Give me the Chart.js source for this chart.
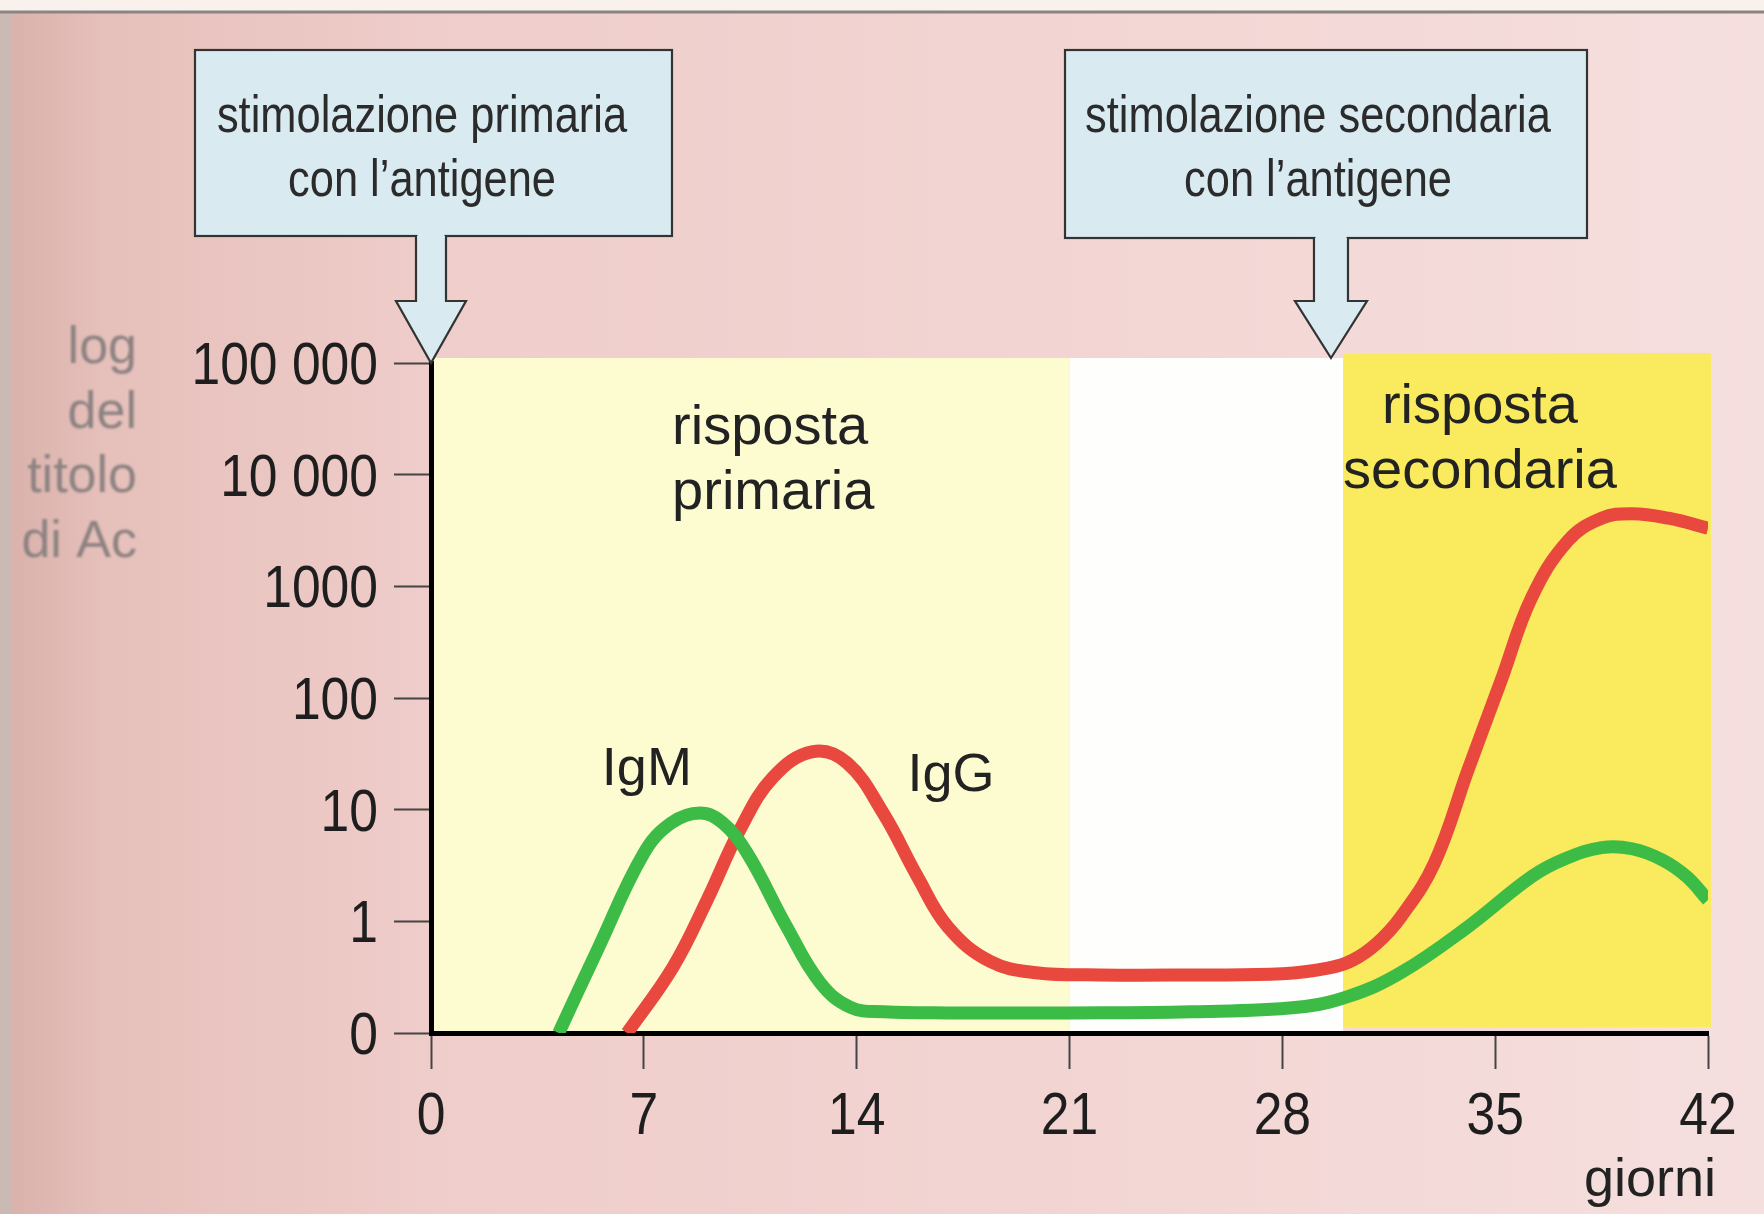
<!DOCTYPE html>
<html>
<head>
<meta charset="utf-8">
<script src="https://cdn.jsdelivr.net/npm/chart.js@4.4.1/dist/chart.umd.min.js"></script>
<style>
html,body{margin:0;padding:0;overflow:hidden;background:#f1d2d0;}
canvas{display:block;}
</style>
</head>
<body>
<canvas id="c" width="1764" height="1214"></canvas>
<script>
// ---- data (days, log-level of antibody titre: 0 = "0", 1 = "1", 2 = "10", ... 6 = "100 000") ----
const igmDays  = [4.2, 5.5, 7.0, 7.9, 8.85, 9.6, 10.4, 11.7, 12.8, 13.8, 14.9, 17, 21, 25, 28.5, 30.2, 31.9, 34.1, 36.2, 37.3, 38.5, 39.5, 40.5, 41.3, 42];
const igmLevel = [0, 0.76, 1.61, 1.88, 1.97, 1.88, 1.61, 0.95, 0.45, 0.23, 0.19, 0.18, 0.18, 0.19, 0.23, 0.33, 0.54, 0.95, 1.40, 1.56, 1.66, 1.65, 1.55, 1.40, 1.19];

const iggDays  = [6.45, 7.96, 9.08, 10.16, 11.25, 12.56, 13.68, 14.87, 16.0, 17.0, 18.4, 19.9, 22, 25, 28, 29.5, 30.3, 31.1, 31.9, 33.0, 34.1, 35.2, 36.2, 37.4, 38.5, 39.5, 40.7, 42];
const iggLevel = [0, 0.59, 1.19, 1.82, 2.29, 2.52, 2.42, 1.97, 1.40, 0.95, 0.64, 0.54, 0.52, 0.52, 0.53, 0.58, 0.65, 0.80, 1.04, 1.52, 2.35, 3.16, 3.90, 4.41, 4.61, 4.65, 4.61, 4.52];

const yTickLabels = ['0', '1', '10', '100', '1000', '10 000', '100 000'];
const xTickStep = 7;
const xMax = 42;
const primaryPhase = [0, 21];
const restPhase = [21, 30];
const secondaryPhase = [30, 42];
const primaryStimDay = 0;
const secondaryStimDay = 29.6;

const SANS = "'Liberation Sans', Arial, sans-serif";

function toPts(xs, ys){ return xs.map((x,i)=>({x:x, y:ys[i]})); }

// draw horizontally condensed text
function condText(ctx, txt, x, y, sx, align){
  ctx.save();
  ctx.translate(x, y);
  ctx.scale(sx, 1);
  ctx.textAlign = align;
  ctx.fillText(txt, 0, 0);
  ctx.restore();
}

const decor = {
  id: 'decor',
  beforeDraw(chart){
    const ctx = chart.ctx, W = chart.width, H = chart.height;
    const xs = chart.scales.x, ys = chart.scales.y;
    ctx.save();
    const g = ctx.createLinearGradient(0,0,W,0);
    g.addColorStop(0, '#d9b0aa');
    g.addColorStop(0.06, '#e6c0bb');
    g.addColorStop(0.25, '#efcdca');
    g.addColorStop(0.6, '#f2d5d3');
    g.addColorStop(1, '#f5dfde');
    ctx.fillStyle = g; ctx.fillRect(0,0,W,H);
    ctx.fillStyle = '#cbbab4'; ctx.fillRect(0,0,12,H);
    ctx.fillStyle = '#f8f1ec'; ctx.fillRect(0,0,W,11);
    ctx.strokeStyle = '#8a8482'; ctx.lineWidth = 3;
    ctx.beginPath(); ctx.moveTo(0,12); ctx.lineTo(W,12); ctx.stroke();

    const top = ys.getPixelForValue(6) - 5;
    const bot = ys.getPixelForValue(0);
    const reg = (r, col, t, b) => {
      const x1 = xs.getPixelForValue(r[0]), x2 = xs.getPixelForValue(r[1]);
      ctx.fillStyle = col; ctx.fillRect(x1, t, x2 - x1 + (r[1]===xMax?3:0), b - t);
    };
    reg(primaryPhase, '#fdfbd0', top, bot);
    reg(restPhase, '#fefefc', top, bot);
    reg(secondaryPhase, '#f9ea5e', top - 5, bot - 6);
    ctx.restore();
  },
  afterDraw(chart){
    const ctx = chart.ctx;
    const xs = chart.scales.x, ys = chart.scales.y;
    ctx.save();

    // tick labels (condensed face), taken from the scales' own ticks
    ctx.fillStyle = '#1e1e1e';
    ctx.font = '60px ' + SANS;
    ctx.textBaseline = 'alphabetic';
    ys.ticks.forEach(t => {
      const y = ys.getPixelForValue(t.value);
      condText(ctx, yTickLabels[t.value], ys.right - 37 - 16, y + 21, 0.86, 'right');
    });
    xs.ticks.forEach(t => {
      const x = xs.getPixelForValue(t.value);
      condText(ctx, String(t.value), x, 1134, 0.86, 'center');
    });

    // stimulus boxes + arrows
    function box(x1, y1, x2, y2, tipDay, tipY, sw, hw, headY, lines, cx){
      const tipX = xs.getPixelForValue(tipDay);
      ctx.fillStyle = '#d9ebf1';
      ctx.strokeStyle = '#333';
      ctx.lineWidth = 2.2;
      ctx.fillRect(x1, y1, x2 - x1, y2 - y1);
      ctx.strokeRect(x1, y1, x2 - x1, y2 - y1);
      ctx.beginPath();
      ctx.moveTo(tipX - sw, y2);
      ctx.lineTo(tipX - sw, headY);
      ctx.lineTo(tipX - hw, headY);
      ctx.lineTo(tipX, tipY);
      ctx.lineTo(tipX + hw, headY);
      ctx.lineTo(tipX + sw, headY);
      ctx.lineTo(tipX + sw, y2);
      ctx.fill();
      ctx.stroke();
      ctx.fillRect(tipX - sw + 1.5, y2 - 2, 2*sw - 3, 5);
      ctx.fillStyle = '#2b2b2b';
      ctx.font = '52px ' + SANS;
      ctx.textBaseline = 'middle';
      condText(ctx, lines[0], cx, 118, 0.835, 'center');
      condText(ctx, lines[1], cx, 182, 0.835, 'center');
    }
    box(195, 50, 672, 236, primaryStimDay, ys.getPixelForValue(6), 15, 35, 301,
        ['stimolazione primaria', 'con l\u2019antigene'], 422);
    box(1065, 50, 1587, 238, secondaryStimDay, ys.getPixelForValue(6) - 5, 17, 36, 301,
        ['stimolazione secondaria', 'con l\u2019antigene'], 1318);

    // region texts
    ctx.fillStyle = '#222';
    ctx.font = '56px ' + SANS;
    ctx.textBaseline = 'middle';
    ctx.textAlign = 'left';
    const px = xs.getPixelForValue(7.93);
    ctx.fillText('risposta', px, ys.getPixelForValue(5.41));
    ctx.fillText('primaria', px, ys.getPixelForValue(4.83));
    ctx.textAlign = 'center';
    const sx = xs.getPixelForValue(34.5);
    ctx.fillText('risposta', sx, ys.getPixelForValue(5.6));
    ctx.fillText('secondaria', sx, ys.getPixelForValue(5.02));

    // series labels
    ctx.font = '54px ' + SANS;
    ctx.fillText('IgM', xs.getPixelForValue(7.1), ys.getPixelForValue(2.35));
    ctx.fillText('IgG', xs.getPixelForValue(17.1), ys.getPixelForValue(2.3));

    // x unit
    ctx.textAlign = 'right';
    ctx.fillText('giorni', 1716, 1181);

    // y axis title (faded)
    ctx.filter = 'blur(1.3px)';
    ctx.fillStyle = '#8d8382';
    ctx.font = '52px ' + SANS;
    ctx.textAlign = 'right';
    ['log', 'del', 'titolo', 'di Ac'].forEach((t, i) => ctx.fillText(t, 137, 349 + i * 64.5));
    ctx.filter = 'none';
    ctx.restore();
  }
};

new Chart(document.getElementById('c'), {
  type: 'line',
  data: {
    datasets: [
      { label: 'IgM', data: toPts(igmDays, igmLevel), borderColor: '#3dbb47', borderWidth: 13,
        pointRadius: 0, tension: 0.4, borderCapStyle: 'butt', borderJoinStyle: 'round' },
      { label: 'IgG', data: toPts(iggDays, iggLevel), borderColor: '#e8483e', borderWidth: 13,
        pointRadius: 0, tension: 0.4, borderCapStyle: 'butt', borderJoinStyle: 'round' }
    ]
  },
  options: {
    responsive: false,
    animation: false,
    devicePixelRatio: 1,
    layout: { padding: { top: 363, right: 56, bottom: 0, left: 0 } },
    plugins: { legend: { display: false }, tooltip: { enabled: false } },
    scales: {
      x: {
        type: 'linear', min: 0, max: xMax,
        afterFit(s){ s.height = 181; },
        ticks: { stepSize: xTickStep, color: 'rgba(0,0,0,0)', padding: 8,
                 font: { family: SANS, size: 52 } },
        grid: { drawOnChartArea: false, drawTicks: true, tickLength: 36, tickColor: '#444', tickWidth: 2 },
        border: { color: '#000', width: 5 }
      },
      y: {
        type: 'linear', min: 0, max: 6,
        afterFit(s){ s.width = 431; },
        ticks: { stepSize: 1, color: 'rgba(0,0,0,0)', padding: 16,
                 font: { family: SANS, size: 52 },
                 callback: (v) => yTickLabels[v] },
        grid: { drawOnChartArea: false, drawTicks: true, tickLength: 37, tickColor: '#444', tickWidth: 2 },
        border: { color: '#000', width: 5 }
      }
    }
  },
  plugins: [decor]
});
</script>
</body>
</html>
